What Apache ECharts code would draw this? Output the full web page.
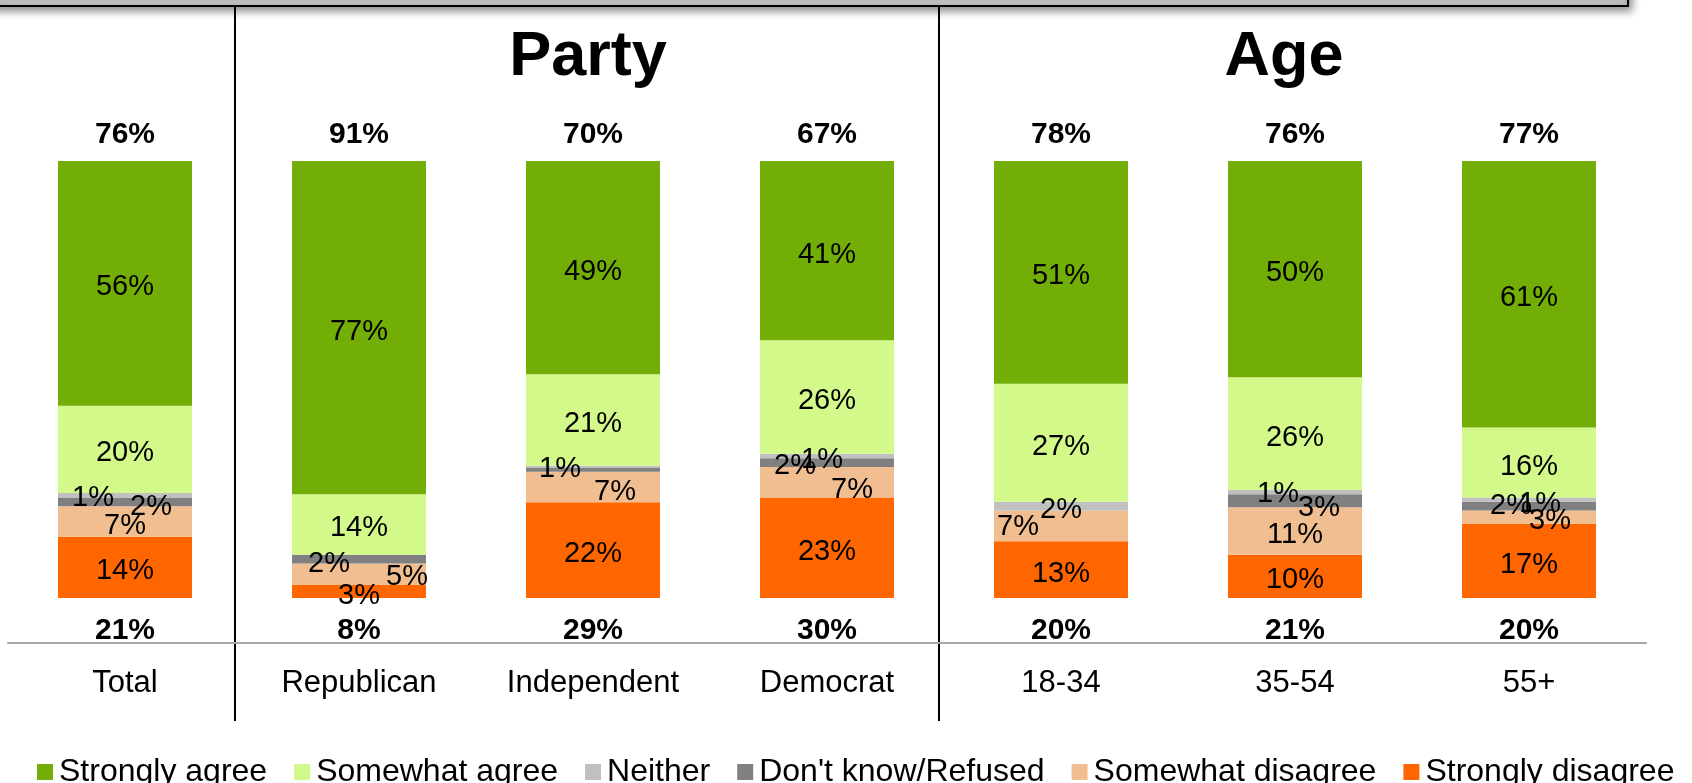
<!DOCTYPE html>
<html>
<head>
<meta charset="utf-8">
<script src="https://cdn.jsdelivr.net/npm/echarts@6/dist/echarts.min.js"></script>
<style>
html,body{margin:0;padding:0;background:#fff;}
#chart{width:1692px;height:783px;}
</style>
</head>
<body>
<div id="chart"></div>
<script>
// ---- data ----
var categories = ['Total', 'Republican', 'Independent', 'Democrat', '18-34', '35-54', '55+'];
var seriesNames = ['Strongly agree', 'Somewhat agree', 'Neither', "Don't know/Refused", 'Somewhat disagree', 'Strongly disagree'];
var stronglyAgree    = [56, 77, 49, 41, 51, 50, 61];
var somewhatAgree    = [20, 14, 21, 26, 27, 26, 16];
var neither          = [1, 0, 0.4, 1, 2, 1, 1];
var dontKnow         = [2, 2, 1, 2, 0, 3, 2];
var somewhatDisagree = [7, 5, 7, 7, 7, 11, 3];
var stronglyDisagree = [14, 3, 22, 23, 13, 10, 17];
var agreeTotals      = [76, 91, 70, 67, 78, 76, 77];
var disagreeTotals   = [21, 8, 29, 30, 20, 21, 20];
var groupTitles      = ['Party', 'Age'];

// ---- styling ----
var FONT = 'Liberation Sans';
var colors = {
  'Strongly agree': '#73ae06',
  'Somewhat agree': '#d3f98a',
  'Neither': '#c0c0c0',
  "Don't know/Refused": '#808080',
  'Somewhat disagree': '#f0be91',
  'Strongly disagree': '#ff6600'
};
// manual label nudges [dx, dy] (px) per series, per category index
var labelNudge = {
  'Neither': {0: [-32, -1], 3: [-5, 0], 4: [0, 0], 5: [-17, -2], 6: [11, 0]},
  "Don't know/Refused": {0: [26, 1], 1: [-30, 1], 2: [-33, -5], 3: [-32, -1], 5: [24, 3], 6: [-18, -4]},
  'Somewhat disagree': {1: [48, -1], 2: [22, 1], 3: [25, 4], 4: [-43, -3], 6: [21, 0]}
};
var LABEL_DY = 4;

var raw = {
  'Strongly agree': stronglyAgree,
  'Somewhat agree': somewhatAgree,
  'Neither': neither,
  "Don't know/Refused": dontKnow,
  'Somewhat disagree': somewhatDisagree,
  'Strongly disagree': stronglyDisagree
};
var sums = categories.map(function (c, i) {
  return seriesNames.reduce(function (s, n) { return s + raw[n][i]; }, 0);
});

var stackOrder = ['Strongly disagree', 'Somewhat disagree', "Don't know/Refused", 'Neither', 'Somewhat agree', 'Strongly agree'];
var series = stackOrder.map(function (name) {
  return {
    name: name,
    type: 'bar',
    stack: 'all',
    barWidth: 134,
    itemStyle: {color: colors[name]},
    label: {
      show: true,
      position: 'inside',
      color: '#000',
      fontFamily: FONT,
      fontSize: 29,
      formatter: function (p) {
        var v = raw[name][p.dataIndex];
        return v >= 1 ? v + '%' : '';
      }
    },
    labelLayout: function (params) {
      var nudge = labelNudge[name] && labelNudge[name][params.dataIndex];
      var dx = nudge ? nudge[0] : 0;
      var dy = (nudge ? nudge[1] : 0) + LABEL_DY;
      return {dx: dx, dy: dy, hideOverlap: false};
    },
    data: raw[name].map(function (v, i) { return v / sums[i] * 100; })
  };
});

function totalSeries(name, yVal, pos, dist, arr) {
  return {
    name: name,
    type: 'scatter',
    symbolSize: 0,
    itemStyle: {color: '#000', opacity: 1},
    silent: true,
    z: 5,
    label: {
      show: true, position: pos, distance: dist,
      color: '#000', opacity: 1, fontFamily: FONT, fontSize: 30, fontWeight: 'bold',
      formatter: function (p) { return arr[p.dataIndex] + '%'; }
    },
    data: categories.map(function (c) { return [c, yVal]; })
  };
}
series.push(totalSeries('agreeTotal', 100, 'top', 11, agreeTotals));
series.push(totalSeries('disagreeTotal', 0, 'bottom', 18, disagreeTotals));

var chart = echarts.init(document.getElementById('chart'));
var option = {
  animation: false,
  textStyle: {fontFamily: FONT},
  grid: {left: 8, right: 46, top: 161, bottom: 185},
  xAxis: {
    type: 'category',
    data: categories,
    offset: 45,
    axisLine: {show: true, onZero: false, lineStyle: {color: '#a6a6a6', width: 2}},
    axisTick: {show: false},
    axisLabel: {color: '#000', fontFamily: FONT, fontSize: 31, margin: 25}
  },
  yAxis: {type: 'value', min: 0, max: 100, show: false},
  legend: {
    data: seriesNames,
    left: 37,
    top: 756,
    width: 1650,
    padding: 0,
    itemWidth: 16,
    itemHeight: 16,
    itemGap: 27,
    icon: 'rect',
    textStyle: {color: '#000', fontFamily: FONT, fontSize: 32, padding: [0, 0, 0, 1]}
  },
  graphic: [
    {type: 'rect', z: 10, shape: {x: -10, y: -20, width: 1638, height: 26},
     style: {fill: '#c0c0c0', stroke: '#000', lineWidth: 2, shadowBlur: 8, shadowOffsetX: 3, shadowOffsetY: 4, shadowColor: 'rgba(0,0,0,0.45)'}},
    {type: 'line', shape: {x1: 235, y1: 0, x2: 235, y2: 721}, style: {stroke: '#000', lineWidth: 2}},
    {type: 'line', shape: {x1: 939, y1: 0, x2: 939, y2: 721}, style: {stroke: '#000', lineWidth: 2}},
    {type: 'text', x: 588, y: 58, style: {text: groupTitles[0], fontFamily: FONT, fontSize: 63, fontWeight: 'bold', fill: '#000', textAlign: 'center', textVerticalAlign: 'middle'}},
    {type: 'text', x: 1284, y: 58, style: {text: groupTitles[1], fontFamily: FONT, fontSize: 63, fontWeight: 'bold', fill: '#000', textAlign: 'center', textVerticalAlign: 'middle'}}
  ],
  series: series
};
chart.setOption(option);
</script>
</body>
</html>
